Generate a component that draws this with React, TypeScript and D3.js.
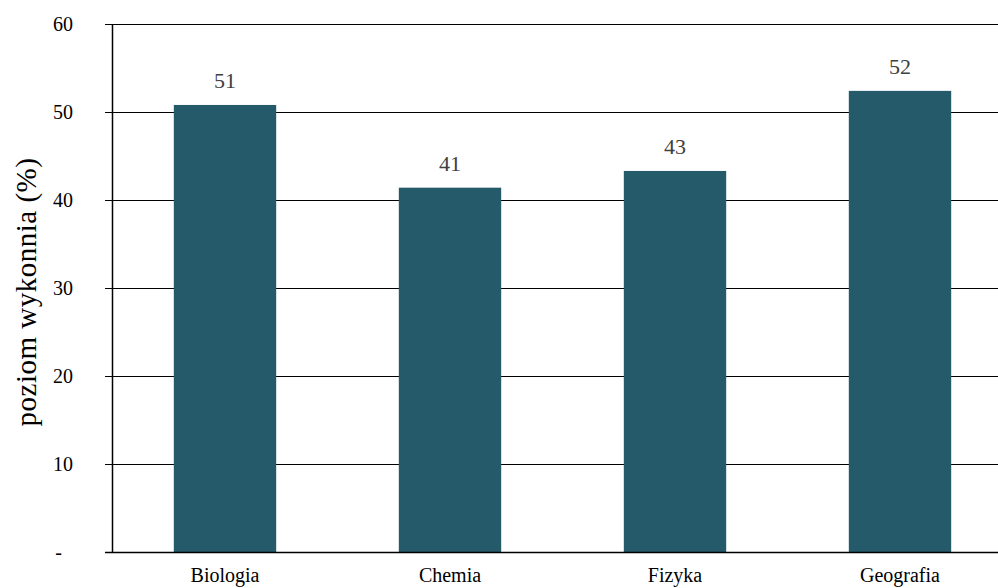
import React from "react";
import * as d3 from "d3";

const categories = ["Biologia", "Chemia", "Fizyka", "Geografia"];
const values = [50.8, 41.4, 43.3, 52.4];
const valueLabels = ["51", "41", "43", "52"];
const yTicks = [0, 10, 20, 30, 40, 50, 60];

const W = 998;
const H = 588;
const left = 112.5;
const top = 24;
const bottom = 552;
const right = 1012.5;

export default function App() {
  const x = d3.scaleBand<string>().domain(categories).range([left, right]).paddingInner(0.545).paddingOuter(0.2725);
  const y = d3.scaleLinear().domain([0, 60]).range([bottom, top]);
  const font = "'Liberation Serif', 'Times New Roman', serif";
  return (
    <svg width={W} height={H} style={{ position: "absolute", left: 0, top: 0 }}>
      <rect width={W} height={H} fill="#fff" />
      {yTicks.map((t) => (
        <g key={t}>
          <line x1={105} x2={W} y1={Math.round(y(t)) + 0.5} y2={Math.round(y(t)) + 0.5} stroke="#000" strokeWidth={1} />
          <text
            x={t === 0 ? 62 : 73}
            y={y(t) + 7}
            textAnchor="end"
            fontFamily={font}
            fontSize={20}
            fill="#000"
          >
            {t === 0 ? "-" : t}
          </text>
        </g>
      ))}
      {categories.map((c, i) => (
        <g key={c}>
          <rect x={x(c)} y={y(values[i])} width={x.bandwidth()} height={bottom - y(values[i])} fill="#245a69" />
          <text
            x={(x(c) as number) + x.bandwidth() / 2}
            y={y(values[i]) - 17}
            textAnchor="middle"
            fontFamily={font}
            fontSize={22}
            fill="#404040"
          >
            {valueLabels[i]}
          </text>
          <text
            x={(x(c) as number) + x.bandwidth() / 2}
            y={582}
            textAnchor="middle"
            fontFamily={font}
            fontSize={20}
            fill="#000"
          >
            {c}
          </text>
        </g>
      ))}
      <line x1={112.5} x2={112.5} y1={top} y2={bottom + 1} stroke="#000" strokeWidth={1.5} />
      <line x1={105} x2={W} y1={bottom + 0.5} y2={bottom + 0.5} stroke="#000" strokeWidth={1.5} />
      <text
        transform={`translate(36, 292) rotate(-90)`}
        textAnchor="middle"
        fontFamily={font}
        fontSize={29}
        letterSpacing={0.5}
        fill="#000"
      >
        poziom wykonnia (%)
      </text>
    </svg>
  );
}
